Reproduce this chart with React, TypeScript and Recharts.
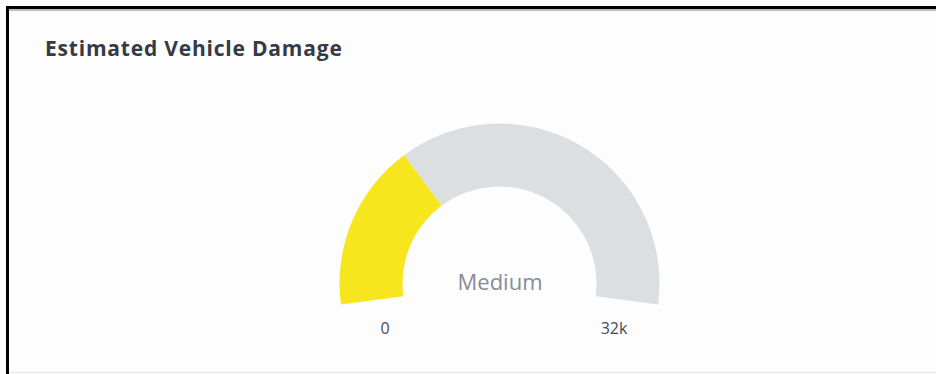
import { PieChart, Pie, Cell } from 'recharts'

const segmentNames = ['Damage', 'Remaining']
const segmentValues = [10000, 22000]
const segmentColors = ['#f7e61e', '#dcdfe2']
const tickLabels = ['0', '32k']
const levelLabel = 'Medium'
const title = 'Estimated Vehicle Damage'

const data = segmentNames.map((name, i) => ({ name, value: segmentValues[i] }))

export default function App() {
  return (
    <div style={{ position: 'absolute', left: 0, top: 0, width: 936, height: 374, background: '#fdfdfd', overflow: 'hidden', fontFamily: '"Open Sans", sans-serif' }}>
      <div style={{ position: 'absolute', left: 6, top: 6, width: 930, height: 3, background: '#000' }} />
      <div style={{ position: 'absolute', left: 6, top: 9, width: 930, height: 2, background: '#bdbdbd' }} />
      <div style={{ position: 'absolute', left: 6, top: 6, width: 3, height: 368, background: '#000' }} />
      <div style={{ position: 'absolute', left: 9, top: 372, width: 927, height: 1, background: '#e4e4e4' }} />
      <div style={{ position: 'absolute', left: 45, top: 34, fontSize: 21, fontWeight: 700, letterSpacing: 0.8, color: '#353a45', whiteSpace: 'nowrap' }}>{title}</div>
      <div style={{ position: 'absolute', left: 0, top: 0 }}>
        <PieChart width={936} height={374} margin={{ top: 0, right: 0, bottom: 0, left: 0 }}>
          <Pie
            data={data}
            dataKey="value"
            cx={499.5}
            cy={283.5}
            innerRadius={97}
            outerRadius={160}
            startAngle={187.5}
            endAngle={-7.5}
            stroke="none"
            isAnimationActive={false}
          >
            {data.map((d, i) => (
              <Cell key={d.name} fill={segmentColors[i]} />
            ))}
          </Pie>
        </PieChart>
      </div>
      <div style={{ position: 'absolute', left: 500, top: 266, transform: 'translateX(-50%)', fontSize: 22, color: '#878b98', whiteSpace: 'nowrap' }}>{levelLabel}</div>
      <div style={{ position: 'absolute', left: 385, top: 317, transform: 'translateX(-50%)', fontSize: 16, color: '#464b56' }}>{tickLabels[0]}</div>
      <div style={{ position: 'absolute', left: 614, top: 317, transform: 'translateX(-50%)', fontSize: 16, color: '#464b56' }}>{tickLabels[1]}</div>
    </div>
  )
}
